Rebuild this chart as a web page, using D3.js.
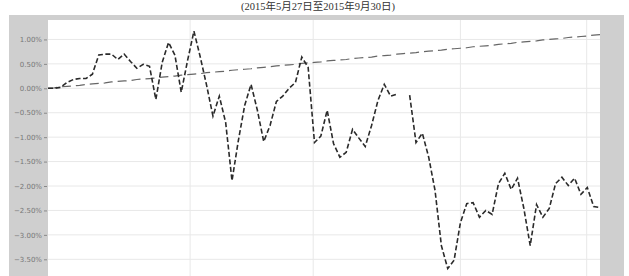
<!DOCTYPE html>
<meta charset="utf-8">
<head>
    <style>
        body {margin: 0; background: #fff;}
        .title {font-family: "Liberation Serif", "Noto Sans CJK SC", serif; font-size: 10.5px; fill: #333;}
        .tick text {font-family: "DejaVu Sans", sans-serif; font-size: 7px; fill: #777;}
        .grid line {stroke: #e8e8e8; stroke-width: 1;}
    </style>
    <script src="https://d3js.org/d3.v7.min.js"></script>
</head>
<body>
<script>

    var title = "(2015年5月27日至2015年9月30日)";

    // 累计收益 (%), 每个交易日一个点, null = 缺失
    var strategy = [0.00, 0.00, 0.02, 0.12, 0.18, 0.20, 0.20, 0.29, 0.68, 0.70,
        0.70, 0.59, 0.70, 0.55, 0.41, 0.49, 0.45, -0.23, 0.53, 0.94,
        0.68, -0.08, 0.57, 1.17, 0.64, 0.06, -0.57, -0.16, -0.70, -1.89,
        -1.07, -0.35, 0.08, -0.45, -1.09, -0.76, -0.27, -0.16, 0.00, 0.12,
        0.64, 0.43, -1.11, -0.98, -0.45, -1.13, -1.41, -1.31, -0.84, -1.02,
        -1.19, -0.76, -0.25, 0.08, -0.16, -0.12, null, -0.14, -1.11, -0.92,
        -1.41, -2.09, -3.22, -3.69, -3.52, -2.75, -2.36, -2.34, -2.64, -2.50,
        -2.58, -1.95, -1.74, -2.07, -1.84, -2.46, -3.22, -2.38, -2.64, -2.46,
        -1.95, -1.82, -1.99, -1.84, -2.17, -2.03, -2.42, -2.44];

    var benchmark = [0.00, 0.01, 0.03, 0.04, 0.05, 0.06, 0.08, 0.09, 0.10, 0.11,
        0.13, 0.14, 0.15, 0.16, 0.18, 0.19, 0.20, 0.21, 0.23, 0.24,
        0.25, 0.27, 0.28, 0.29, 0.30, 0.32, 0.33, 0.34, 0.35, 0.37,
        0.38, 0.39, 0.40, 0.42, 0.43, 0.44, 0.46, 0.47, 0.48, 0.49,
        0.51, 0.52, 0.53, 0.54, 0.56, 0.57, 0.58, 0.59, 0.61, 0.62,
        0.63, 0.64, 0.66, 0.67, 0.68, 0.70, 0.71, 0.72, 0.73, 0.75,
        0.76, 0.77, 0.78, 0.80, 0.81, 0.82, 0.83, 0.85, 0.86, 0.87,
        0.88, 0.90, 0.91, 0.92, 0.94, 0.95, 0.96, 0.97, 0.99, 1.00,
        1.01, 1.02, 1.04, 1.05, 1.06, 1.07, 1.09, 1.10];

    var yTicks = [1.0, 0.5, 0.0, -0.5, -1.0, -1.5, -2.0, -2.5, -3.0, -3.5];
    var xGridTicks = [22.4, 41.8, 65, 84.9];

    var width = 629, height = 276;
    var margin = {top: 20, right: 29, bottom: 0, left: 48};

    var svg = d3.select("body").append("svg")
        .attr("width", width)
        .attr("height", height);

    // 灰色边框
    svg.append("rect").attr("x", 9).attr("y", 15).attr("width", 615).attr("height", height - 15).attr("fill", "#cfcfcf");
    svg.append("rect").attr("x", margin.left).attr("y", margin.top)
        .attr("width", width - margin.left - margin.right).attr("height", height - margin.top)
        .attr("fill", "#fff");

    svg.append("text").attr("class", "title")
        .attr("x", 318).attr("y", 10)
        .attr("text-anchor", "middle")
        .text(title);

    var x = d3.scaleLinear()
        .domain([0, strategy.length - 1])
        .range([margin.left, width - margin.right]);

    var y = d3.scaleLinear()
        .domain([0, -3.5])
        .range([88.3, 259.3]);

    svg.append("g").attr("class", "grid")
        .selectAll("line").data(yTicks)
      .enter().append("line")
        .attr("x1", margin.left).attr("x2", width - margin.right)
        .attr("y1", function(d) {return y(d)}).attr("y2", function(d) {return y(d)});

    svg.append("g").attr("class", "grid")
        .selectAll("line").data(xGridTicks)
      .enter().append("line")
        .attr("x1", function(d) {return x(d)}).attr("x2", function(d) {return x(d)})
        .attr("y1", margin.top).attr("y2", height);

    svg.append("g")
        .attr("transform", "translate(" + (margin.left - 1) + ",0)")
        .call(d3.axisLeft(y).tickValues(yTicks).tickSize(3).tickPadding(2)
            .tickFormat(function(d) {return d3.format(".2f")(d) + "%"}))
        .call(function(g) {g.select(".domain").remove()})
        .call(function(g) {g.selectAll(".tick line").attr("stroke", "#888")});

    var line = d3.line()
        .defined(function(d) {return d != null})
        .x(function(d, i) {return x(i)})
        .y(function(d) {return y(d)});

    svg.append("path")
        .datum(benchmark)
        .attr("d", line)
        .attr("fill", "none")
        .attr("stroke", "#666")
        .attr("stroke-width", 1.2)
        .attr("stroke-dasharray", "9,5");

    svg.append("path")
        .datum(strategy)
        .attr("d", line)
        .attr("fill", "none")
        .attr("stroke", "#2a2a2a")
        .attr("stroke-width", 1.6)
        .attr("stroke-dasharray", "5,2.5");

</script>
</body>
